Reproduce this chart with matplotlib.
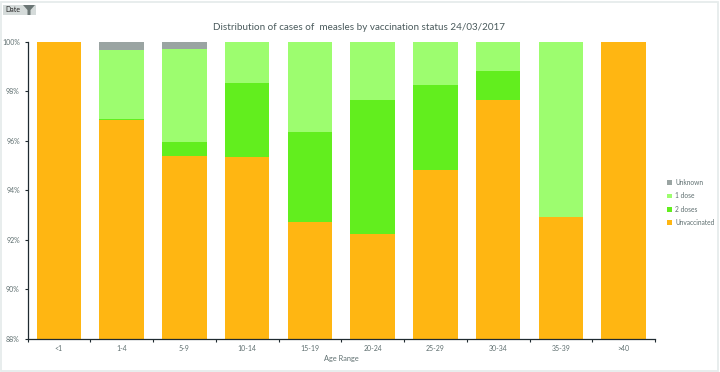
import numpy as np
import matplotlib
matplotlib.use("Agg")
import matplotlib.pyplot as plt
from matplotlib.patches import Rectangle, Polygon

ages = ["<1", "1-4", "5-9", "10-14", "15-19", "20-24", "25-29", "30-34", "35-39", ">40"]
unvaccinated = [100, 96.84, 95.38, 95.34, 92.71, 92.23, 94.82, 97.65, 92.92, 100]
two_doses = [0, 0.05, 0.57, 3.0, 3.65, 5.42, 3.44, 1.18, 0, 0]
one_dose = [0, 2.79, 3.77, 1.66, 3.64, 2.35, 1.74, 1.17, 7.08, 0]
unknown = [0, 0.32, 0.28, 0, 0, 0, 0, 0, 0, 0]

series = [("Unvaccinated", unvaccinated, "#ffb612"),
          ("2 doses", two_doses, "#62ee1e"),
          ("1 dose", one_dose, "#9dfd6f"),
          ("Unknown", unknown, "#9aa4a2")]

plt.rcParams['font.family'] = ['Lato', 'DejaVu Sans']
grey = "#5f6f70"

fig = plt.figure(figsize=(7.2, 3.72), dpi=100)
W, H = 720, 372
ax = fig.add_axes([27.5 / W, 1 - 338.5 / H, (655 - 27.5) / W, (338.5 - 42) / H])

x = np.arange(len(ages))
bottom = np.zeros(len(ages))
for name, vals, col in series:
    vals = np.array(vals)
    ax.bar(x, vals, 0.71, bottom=bottom, color=col, label=name, linewidth=0)
    bottom += vals

ax.set_xlim(-0.5, 9.5)
ax.set_ylim(88, 100)
ax.set_yticks([88, 90, 92, 94, 96, 98, 100])
ax.set_yticklabels(["88%", "90%", "92%", "94%", "96%", "98%", "100%"], fontsize=5, color=grey)
ax.set_xticks(x)
ax.set_xticklabels(ages, fontsize=5, color=grey)
ax.set_xticks(np.arange(-0.5, 10, 1), minor=True)
ax.tick_params(axis='x', which='major', length=0, pad=5)
ax.tick_params(axis='x', which='minor', length=2.5, width=0.8, color="#1f2a30")
ax.tick_params(axis='y', length=2.5, width=0.8, color="#1f2a30", pad=3)
for s in ['top', 'right']:
    ax.spines[s].set_visible(False)
for s in ['left', 'bottom']:
    ax.spines[s].set_color("#1f2a30")
    ax.spines[s].set_linewidth(0.9)

fig.text(359 / W, 1 - 28 / H, "Distribution of cases of  measles by vaccination status 24/03/2017",
         ha='center', va='center', fontsize=7.1, color="#4a5a5c")
fig.text(341 / W, 1 - 358 / H, "Age Range", ha='center', va='center', fontsize=5.3, color=grey)

# legend, reversed like the stack
handles, labels = ax.get_legend_handles_labels()
fig.legend(handles[::-1], labels[::-1], loc='center left', bbox_to_anchor=(667 / W, 1 - 202.5 / H),
           frameon=False, fontsize=4.8, labelcolor=grey, handlelength=0.7, handleheight=0.7,
           handletextpad=0.5, labelspacing=0.95, borderpad=0, borderaxespad=0)

# outer frame
fig.add_artist(Rectangle((1 / W, 1 / H), 717 / W, 369 / H, transform=fig.transFigure,
                         fill=False, edgecolor="#e6ecec", linewidth=1.3))
# filter button
fig.add_artist(Rectangle((3 / W, 1 - 15 / H), 33 / W, 10 / H, transform=fig.transFigure,
                         facecolor="#d5dbda", edgecolor="none"))
fig.text(5 / W, 1 - 10 / H, "Date", fontsize=5, va='center', color="#222222")
fig.add_artist(Polygon([(23 / W, 1 - 5 / H), (35 / W, 1 - 5 / H), (30.5 / W, 1 - 10 / H),
                        (30.5 / W, 1 - 15 / H), (27.5 / W, 1 - 15 / H), (27.5 / W, 1 - 10 / H)],
                       transform=fig.transFigure, facecolor="#6b7675", edgecolor="none"))

fig.savefig("out.png", dpi=100)
